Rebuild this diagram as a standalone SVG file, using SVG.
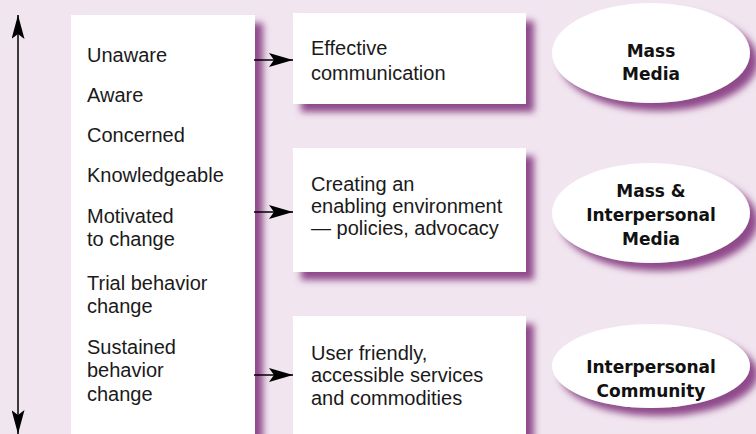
<svg xmlns="http://www.w3.org/2000/svg" width="756" height="434" viewBox="0 0 756 434">
  <style>
    .card { fill: #ffffff; filter: url(#drop); }
    .stage { font-family: "Liberation Sans", Arial, sans-serif; font-size: 20px; fill: #1a1a1a; }
    .channel { font-family: "DejaVu Sans", Verdana, sans-serif; font-size: 17px; font-weight: bold; fill: #111111; text-anchor: middle; }
    .link { stroke: #000000; stroke-width: 1.5; fill: none; }
  </style>
  <defs>
    <filter id="drop" x="-10%" y="-10%" width="130%" height="140%">
      <feGaussianBlur in="SourceAlpha" stdDeviation="3.5" result="blur"/>
      <feOffset in="blur" dx="8" dy="8" result="off"/>
      <feFlood flood-color="#8f4a8b" result="tint"/>
      <feComposite in="tint" in2="off" operator="in" result="shadow"/>
      <feMerge>
        <feMergeNode in="shadow"/>
        <feMergeNode in="SourceGraphic"/>
      </feMerge>
    </filter>
    <marker id="headH" viewBox="0 0 24 14" refX="24" refY="7" markerWidth="24" markerHeight="14" markerUnits="userSpaceOnUse" orient="auto">
      <path d="M0,0 L24,7 L0,14 L5,7 Z" fill="#000"/>
    </marker>
    <marker id="headV" viewBox="0 0 24 13" refX="24" refY="6.5" markerWidth="24" markerHeight="13" markerUnits="userSpaceOnUse" orient="auto">
      <path d="M0,0 L24,6.5 L0,13 L5,6.5 Z" fill="#000"/>
    </marker>
  </defs>

  <!-- backdrop -->
  <rect x="0" y="0" width="756" height="434" fill="#f1e5ef"/>

  <!-- stages of change column -->
  <g id="stages">
    <rect class="card" x="71" y="15" width="184" height="440"/>
    <text class="stage" x="87" y="62">Unaware</text>
    <text class="stage" x="87" y="102">Aware</text>
    <text class="stage" x="87" y="142">Concerned</text>
    <text class="stage" x="87" y="182">Knowledgeable</text>
    <text class="stage" x="87" y="223">Motivated</text>
    <text class="stage" x="87" y="246">to change</text>
    <text class="stage" x="87" y="290">Trial behavior</text>
    <text class="stage" x="87" y="313">change</text>
    <text class="stage" x="87" y="354">Sustained</text>
    <text class="stage" x="87" y="377">behavior</text>
    <text class="stage" x="87" y="401">change</text>
  </g>

  <!-- intervention boxes -->
  <g id="effective-communication">
    <rect class="card" x="293" y="13" width="233" height="91"/>
    <text class="stage" x="311" y="55">Effective</text>
    <text class="stage" x="311" y="80">communication</text>
  </g>
  <g id="enabling-environment">
    <rect class="card" x="293" y="148" width="233" height="124"/>
    <text class="stage" x="311" y="191">Creating an</text>
    <text class="stage" x="311" y="213">enabling environment</text>
    <text class="stage" x="311" y="235">— policies, advocacy</text>
  </g>
  <g id="services">
    <rect class="card" x="293" y="316" width="233" height="140"/>
    <text class="stage" x="311" y="360">User friendly,</text>
    <text class="stage" x="311" y="382">accessible services</text>
    <text class="stage" x="311" y="405">and commodities</text>
  </g>

  <!-- channels -->
  <g id="mass-media">
    <ellipse class="card" cx="651" cy="53" rx="99" ry="50"/>
    <text class="channel" x="651" y="57">Mass</text>
    <text class="channel" x="651" y="80">Media</text>
  </g>
  <g id="mass-interpersonal-media">
    <ellipse class="card" cx="651" cy="213" rx="99" ry="50"/>
    <text class="channel" x="651" y="197">Mass &amp;</text>
    <text class="channel" x="651" y="221">Interpersonal</text>
    <text class="channel" x="651" y="245">Media</text>
  </g>
  <g id="interpersonal-community">
    <ellipse class="card" cx="651" cy="366" rx="99" ry="42"/>
    <text class="channel" x="651" y="373">Interpersonal</text>
    <text class="channel" x="651" y="397">Community</text>
  </g>

  <!-- connectors -->
  <g id="connectors">
    <line class="link" x1="18" y1="226" x2="18" y2="15" marker-end="url(#headV)"/>
    <line class="link" x1="18" y1="226" x2="18" y2="434" marker-end="url(#headV)"/>
    <line class="link" x1="254" y1="60" x2="293" y2="60" marker-end="url(#headH)"/>
    <line class="link" x1="254" y1="212" x2="293" y2="212" marker-end="url(#headH)"/>
    <line class="link" x1="254" y1="375" x2="293" y2="375" marker-end="url(#headH)"/>
  </g>
</svg>
